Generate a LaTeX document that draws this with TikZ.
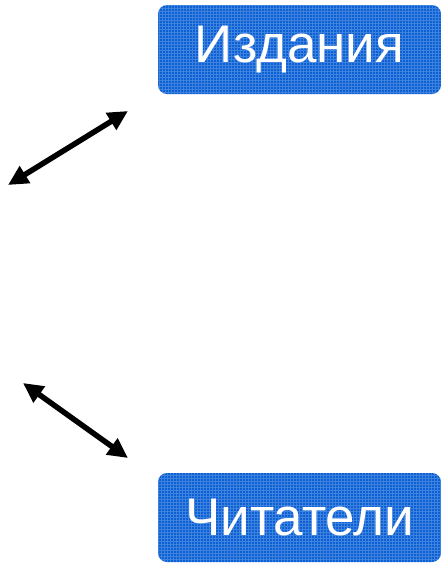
\documentclass[tikz,border=0pt]{standalone}
\usepackage{fontspec}
\setmainfont{Liberation Sans}
\usetikzlibrary{arrows.meta}
\definecolor{boxblue}{RGB}{10,96,212}
\tikzset{
  entity/.style={draw=none, fill=boxblue, rounded corners=9pt, minimum width=283pt, minimum height=89pt, inner sep=0pt, text=white, font=\fontsize{53}{60}\selectfont,
    path picture={\draw[white, opacity=0.22, line width=0.7pt] ([xshift=-2pt,yshift=2pt]path picture bounding box.north west) grid[step=3pt] ([xshift=2pt,yshift=-2pt]path picture bounding box.south east);}},
  link/.style={line width=5.5pt, {Triangle[length=20pt,width=19pt]}-{Triangle[length=20pt,width=19pt]}}
}
\begin{document}
\begin{tikzpicture}[x=1pt,y=-1pt]
\useasboundingbox (0,0) rectangle (441,563);
\node[entity] (izd) at (299.5,49.5) {Издания};
\node[entity] (chit) at (299.5,517.5) {Читатели};
\coordinate (a1) at (8,185);
\coordinate (a2) at (128,111);
\coordinate (b1) at (23,383);
\coordinate (b2) at (128,458);
\draw[link] (a1) -- (a2);
\draw[link] (b1) -- (b2);
\end{tikzpicture}
\end{document}
